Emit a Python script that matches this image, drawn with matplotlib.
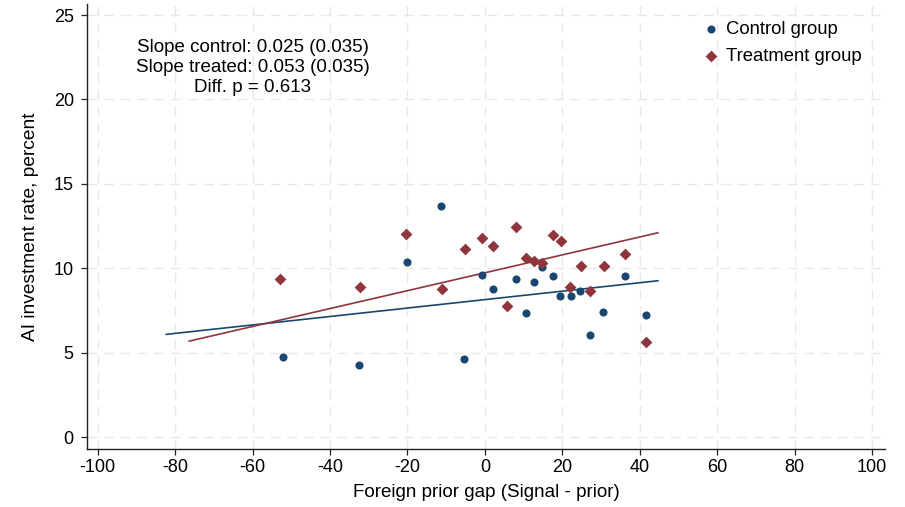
import matplotlib
matplotlib.use("Agg")
import matplotlib.pyplot as plt
import numpy as np

plt.rcParams['font.family'] = ['Liberation Sans', 'DejaVu Sans']
plt.rcParams['axes.unicode_minus'] = False

# Control group observations
control_x = [-52.1, -32.4, -20.1, -11.4, -5.5, -0.7, 2.1, 8.1, 10.7, 12.7,
             14.7, 17.6, 19.5, 22.2, 24.6, 27.1, 30.5, 36.1, 41.6]
control_y = [4.75, 4.29, 10.35, 13.70, 4.65, 9.58, 8.79, 9.38, 7.32, 9.20,
             10.09, 9.52, 8.35, 8.37, 8.63, 6.04, 7.40, 9.56, 7.20]

# Treatment group observations
treat_x = [-53.0, -32.3, -20.5, -11.0, -5.2, -0.8, 2.1, 5.7, 8.1, 10.7,
           12.6, 14.8, 17.5, 19.6, 22.1, 24.8, 27.1, 30.9, 36.2, 41.6]
treat_y = [9.38, 8.89, 12.04, 8.79, 11.16, 11.80, 11.34, 7.74, 12.47, 10.63,
           10.43, 10.33, 11.97, 11.60, 8.91, 10.11, 8.63, 10.15, 10.83, 5.60]

# Linear fits: slope, intercept and x-range
control_slope, control_icpt = 0.025, 8.14
treat_slope, treat_icpt = 0.053, 9.73
control_range = [-82.3, 44.7]
treat_range = [-76.4, 44.7]

annotation = ["Slope control: 0.025 (0.035)",
              "Slope treated: 0.053 (0.035)",
              "Diff. p = 0.613"]

x_ticks = list(range(-100, 101, 20))
y_ticks = list(range(0, 26, 5))

navy = "#1a476f"
maroon = "#90353b"

fig = plt.figure(figsize=(9.05, 5.07), dpi=100)
ax = fig.add_axes([0.0961, 0.1144, 0.978 - 0.0961, 0.992 - 0.1144])

ax.set_xlim(-102.8, 103.4)
ax.set_ylim(-0.71, 25.65)
ax.set_xticks(x_ticks)
ax.set_yticks(y_ticks)
ax.grid(True, color="#e8e8e8", linestyle=(0, (7, 5)), linewidth=1.0)
ax.set_axisbelow(True)

for s in ["top", "right"]:
    ax.spines[s].set_visible(False)
for s in ["left", "bottom"]:
    ax.spines[s].set_color("#222222")
    ax.spines[s].set_linewidth(1.0)
ax.tick_params(direction="out", length=4, width=0.9, color="#222222",
               labelsize=13)
ax.tick_params(axis="y", pad=5.5)
ax.tick_params(axis="x", pad=3)

ax.scatter(control_x, control_y, s=34, marker="o", color=navy,
           zorder=3, label="Control group", linewidths=0)
ax.scatter(treat_x, treat_y, s=36, marker="D", color=maroon,
           zorder=3, label="Treatment group", linewidths=0)

cx = np.array(control_range)
tx = np.array(treat_range)
ax.plot(cx, control_icpt + control_slope * cx, color=navy, lw=1.2, zorder=2)
ax.plot(tx, treat_icpt + treat_slope * tx, color=maroon, lw=1.2, zorder=2)

ax.text(-60.0, 21.9, "\n".join(annotation), ha="center", va="center",
        fontsize=13.5, linespacing=1.25)

leg = ax.legend(loc="upper left", bbox_to_anchor=(0.759, 0.979), frameon=False,
                fontsize=13.3, handletextpad=0.2, borderaxespad=0.0,
                labelspacing=0.55, handlelength=1.2, scatterpoints=1)

ax.set_xlabel("Foreign prior gap (Signal - prior)", fontsize=13.5)
ax.set_ylabel("AI investment rate, percent", fontsize=13.8)
ax.xaxis.set_label_coords(0.5, -0.0787)
ax.yaxis.set_label_coords(-0.060, 0.5)

fig.savefig("out.png", dpi=100, facecolor="white")
